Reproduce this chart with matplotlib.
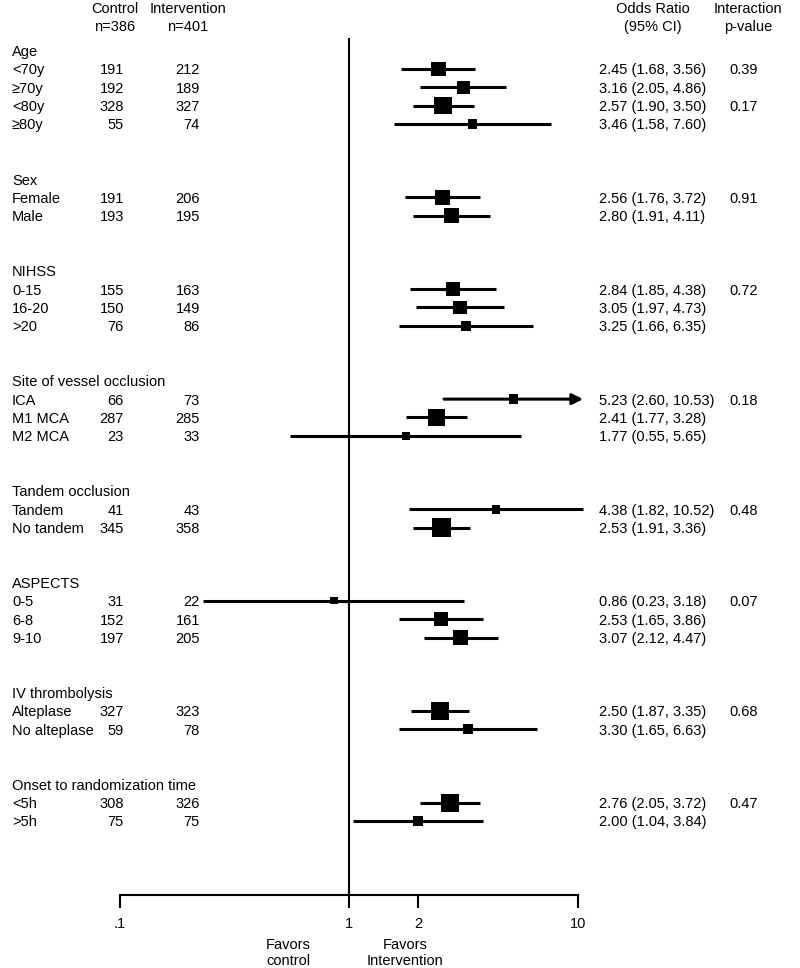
import matplotlib
matplotlib.use("Agg")
import matplotlib.pyplot as plt
import matplotlib.transforms as mtransforms
import numpy as np

plt.rcParams['font.family'] = ['Liberation Sans', 'DejaVu Sans']

# ---------------- data ----------------
groups = ["Age", "Sex", "NIHSS", "Site of vessel occlusion", "Tandem occlusion",
          "ASPECTS", "IV thrombolysis", "Onset to randomization time"]
group_sizes = [4, 2, 3, 3, 2, 3, 2, 2]
labels = ["<70y", "≥70y", "<80y", "≥80y",
          "Female", "Male",
          "0-15", "16-20", ">20",
          "ICA", "M1 MCA", "M2 MCA",
          "Tandem", "No tandem",
          "0-5", "6-8", "9-10",
          "Alteplase", "No alteplase",
          "<5h", ">5h"]
control_n = [191, 192, 328, 55, 191, 193, 155, 150, 76, 66, 287, 23, 41, 345,
             31, 152, 197, 327, 59, 308, 75]
intervention_n = [212, 189, 327, 74, 206, 195, 163, 149, 86, 73, 285, 33, 43, 358,
                  22, 161, 205, 323, 78, 326, 75]
odds_ratio = [2.45, 3.16, 2.57, 3.46, 2.56, 2.80, 2.84, 3.05, 3.25, 5.23, 2.41, 1.77,
              4.38, 2.53, 0.86, 2.53, 3.07, 2.50, 3.30, 2.76, 2.00]
ci_low = [1.68, 2.05, 1.90, 1.58, 1.76, 1.91, 1.85, 1.97, 1.66, 2.60, 1.77, 0.55,
          1.82, 1.91, 0.23, 1.65, 2.12, 1.87, 1.65, 2.05, 1.04]
ci_high = [3.56, 4.86, 3.50, 7.60, 3.72, 4.11, 4.38, 4.73, 6.35, 10.53, 3.28, 5.65,
           10.52, 3.36, 3.18, 3.86, 4.47, 3.35, 6.63, 3.72, 3.84]
p_interaction = ["0.39", "", "0.17", "", "0.91", "", "0.72", "", "", "0.18", "", "",
                 "0.48", "", "0.07", "", "", "0.68", "", "0.47", ""]
total_control, total_intervention = 386, 401
xticks = [0.1, 1, 2, 10]
xtick_labels = [".1", "1", "2", "10"]
arrow_labels = ["ICA"]

# ---------------- layout ----------------
W, H = 800, 968
ROW0_PX, ROW_PX = 50.66, 18.34
TXT_OFF = 0.08  # small downward offset of text relative to markers


def row_of(px):
    return (px - ROW0_PX) / ROW_PX


def fx(px):
    return px / W


def fy(px):
    return 1 - px / H


fig = plt.figure(figsize=(W / 100, H / 100), dpi=100)
ax = fig.add_axes([0, 0, 1, 1])
ax.set_xscale('log')
ax.set_xlim(10 ** (-1 - 120 / 229), 10 ** (1 + (W - 578) / 229))
ax.set_ylim(row_of(H), row_of(0))
ax.patch.set_visible(False)

# row positions
header_rows, item_rows = [], []
r = 0
for g, n in zip(groups, group_sizes):
    header_rows.append(r)
    r += 1
    for _ in range(n):
        item_rows.append(r)
        r += 1
    r += 2
item_rows = np.array(item_rows, dtype=float)

FS = 10.5
trans = mtransforms.blended_transform_factory(fig.transFigure, ax.transData)

# column headers
fig.text(fx(115), fy(9), "Control", ha='center', va='center', fontsize=FS)
fig.text(fx(115), fy(27), f"n={total_control}", ha='center', va='center', fontsize=FS)
fig.text(fx(188), fy(9), "Intervention", ha='center', va='center', fontsize=FS)
fig.text(fx(188), fy(27), f"n={total_intervention}", ha='center', va='center', fontsize=FS)
fig.text(fx(653), fy(9), "Odds Ratio", ha='center', va='center', fontsize=FS)
fig.text(fx(653), fy(27), "(95% CI)", ha='center', va='center', fontsize=FS)
fig.text(fx(748), fy(9), "Interaction", ha='center', va='center', fontsize=FS)
fig.text(fx(748), fy(27), "p-value", ha='center', va='center', fontsize=FS)

for g, hr in zip(groups, header_rows):
    ax.text(fx(12), hr + TXT_OFF, g, transform=trans, ha='left', va='center', fontsize=FS)

for i, y in enumerate(item_rows):
    ty = y + TXT_OFF
    ax.text(fx(12), ty, labels[i], transform=trans, ha='left', va='center', fontsize=FS)
    ax.text(fx(124), ty, str(control_n[i]), transform=trans, ha='right', va='center', fontsize=FS)
    ax.text(fx(200), ty, str(intervention_n[i]), transform=trans, ha='right', va='center', fontsize=FS)
    ax.text(fx(599), ty, f"{odds_ratio[i]:.2f} ({ci_low[i]:.2f}, {ci_high[i]:.2f})",
            transform=trans, ha='left', va='center', fontsize=FS)
    if p_interaction[i]:
        ax.text(fx(744), ty, p_interaction[i], transform=trans, ha='center', va='center', fontsize=FS)

# reference line at 1
axis_row = row_of(895)
ax.vlines(1, row_of(38), axis_row, color='black', lw=1.5)

# confidence intervals
or_arr = np.array(odds_ratio)
lo_arr = np.array(ci_low)
hi_arr = np.array(ci_high)
for i, y in enumerate(item_rows):
    if labels[i] in arrow_labels:
        ax.annotate('', xy=(hi_arr[i], y), xytext=(lo_arr[i], y),
                    arrowprops=dict(arrowstyle='-|>', lw=2.2, color='black',
                                    mutation_scale=16, shrinkA=0, shrinkB=0))
    else:
        ax.hlines(y, lo_arr[i], hi_arr[i], color='black', lw=2.2)

# box size from inverse-variance (standard error on log scale)
se = (np.log(hi_arr) - np.log(lo_arr)) / (2 * 1.96)
side_px = 4 + 2.1 / se
ax.scatter(or_arr, item_rows, marker='s', s=(side_px * 0.72) ** 2, color='black',
           linewidths=0, zorder=3)

# x axis
for s in ['top', 'right', 'left']:
    ax.spines[s].set_visible(False)
ax.spines['bottom'].set_position(('data', axis_row))
ax.spines['bottom'].set_bounds(0.1, 10)
ax.spines['bottom'].set_linewidth(1.5)
ax.set_xticks(xticks)
ax.set_xticklabels(xtick_labels, fontsize=FS)
ax.xaxis.set_minor_locator(matplotlib.ticker.NullLocator())
ax.tick_params(axis='x', direction='out', length=9, width=1.5, pad=7)
ax.set_yticks([])

ax.text(1 / 10 ** (61 / 229), row_of(953), "Favors\ncontrol", ha='center', va='center',
        fontsize=FS, linespacing=1.2)
ax.text(10 ** (56 / 229), row_of(953), "Favors\nIntervention", ha='center', va='center',
        fontsize=FS, linespacing=1.2)

fig.savefig("out.png", dpi=100)
